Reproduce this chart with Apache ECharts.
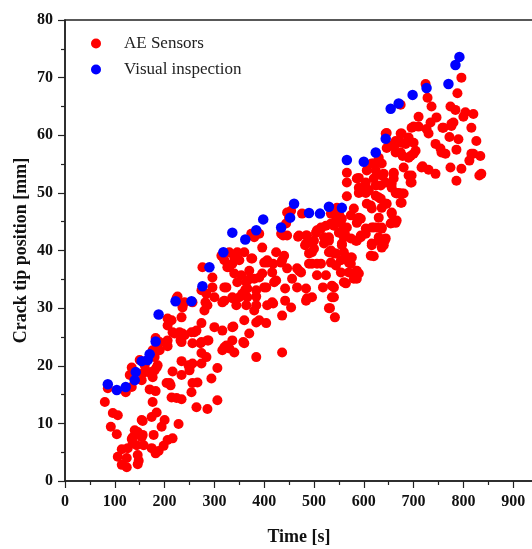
<!DOCTYPE html>
<html>
<head>
<meta charset="utf-8">
<script src="https://cdn.jsdelivr.net/npm/echarts@6/dist/echarts.min.js"></script>
<style>
  html, body { margin: 0; padding: 0; background: #fff; }
  #chart { width: 532px; height: 549px; }
</style>
</head>
<body>
<div id="chart"></div>
<script>
// Crack tip position over time: [time (s), position (mm)]
const aeSensors = [
  [80,13.7],[86,16.1],[92,9.4],[96,11.8],[104,8.1],[106,11.4],[106,4.2],[114,5.5],[114,2.8],[122,15.4],
  [124,4.0],[124,2.4],[126,5.7],[130,18.4],[134,16.3],[134,7.3],[134,19.7],[136,6.6],[136,7.6],[140,8.8],
  [144,6.2],[146,8.5],[146,4.5],[146,2.9],[148,3.5],[150,21.0],[154,17.5],[154,10.6],[154,7.6],[156,18.7],
  [156,8.0],[156,10.4],[158,6.2],[160,20.1],[166,18.9],[170,15.9],[174,18.9],[174,11.1],[174,5.7],[176,22.7],
  [176,13.7],[176,18.0],[178,8.0],[180,21.5],[180,19.2],[182,24.8],[182,15.6],[182,4.8],[184,19.7],[184,11.9],
  [184,23.2],[186,23.5],[186,20.1],[188,5.2],[190,22.7],[190,24.1],[194,9.4],[198,6.1],[200,10.6],[204,17.0],
  [206,27.0],[206,24.4],[206,23.4],[206,7.1],[206,28.2],[210,17.0],[212,16.6],[214,27.9],[214,14.5],[216,19.0],
  [216,7.4],[216,25.8],[220,25.6],[224,31.7],[224,14.4],[226,32.0],[228,9.9],[230,25.8],[232,24.4],[234,20.8],
  [234,18.4],[234,14.2],[234,28.4],[234,24.1],[236,30.5],[236,25.6],[236,30.1],[240,25.3],[240,31.0],[248,20.1],
  [250,19.2],[250,19.7],[254,15.4],[254,25.8],[256,23.9],[256,20.4],[256,17.0],[256,31.0],[260,25.8],[264,12.8],
  [264,26.1],[266,17.1],[272,23.9],[274,33.1],[274,27.4],[274,22.2],[274,24.1],[274,20.4],[276,37.1],[280,29.6],
  [282,31.0],[284,32.5],[284,21.5],[286,30.5],[286,12.5],[286,24.4],[288,24.4],[294,17.8],[296,33.6],[296,35.3],
  [300,31.9],[300,26.7],[306,19.6],[306,14.0],[314,39.1],[316,31.0],[316,26.1],[316,22.7],[318,38.8],[320,33.6],
  [320,23.2],[320,31.3],[320,38.3],[324,23.5],[324,33.6],[326,37.1],[326,23.4],[330,23.0],[330,39.7],[330,37.1],
  [336,37.7],[336,31.9],[336,26.7],[336,24.4],[336,31.7],[338,26.8],[340,36.0],[340,38.8],[340,22.3],[344,30.5],
  [346,34.5],[346,39.7],[350,38.3],[350,31.9],[354,35.7],[356,32.5],[358,24.1],[360,39.7],[360,27.9],[360,23.9],
  [362,33.2],[364,34.5],[364,30.5],[366,33.4],[366,31.9],[370,36.5],[370,25.6],[370,35.0],[374,38.6],[374,42.9],
  [376,38.6],[380,35.1],[380,42.3],[380,29.6],[384,33.1],[384,30.5],[384,27.5],[384,21.5],[384,32.0],[390,42.9],
  [390,35.3],[390,27.9],[396,36.0],[396,40.5],[400,37.9],[400,33.6],[404,33.6],[404,27.4],[406,30.5],[406,38.3],
  [406,37.9],[416,36.2],[416,31.0],[418,37.7],[418,30.8],[420,34.5],[424,39.7],[424,34.8],[434,42.9],[434,37.9],
  [436,38.3],[436,28.7],[436,22.3],[438,42.6],[440,39.1],[442,33.4],[442,31.3],[444,44.7],[446,42.6],[446,36.9],
  [446,46.6],[450,45.7],[454,46.9],[454,30.1],[456,35.1],[466,36.9],[466,33.6],[468,42.4],[470,42.6],[470,36.5],
  [474,36.2],[476,46.4],[482,40.9],[484,33.4],[484,31.3],[484,42.6],[484,41.2],[486,42.6],[486,31.7],[490,39.5],
  [490,37.7],[496,41.4],[496,37.7],[496,31.9],[496,39.7],[500,40.3],[500,41.7],[504,43.1],[506,35.7],[506,37.7],
  [506,43.5],[514,43.8],[514,37.7],[514,44.0],[518,33.6],[520,42.3],[520,41.2],[524,35.7],[524,44.3],[530,42.3],
  [530,30.0],[530,39.7],[530,41.7],[532,30.0],[534,40.0],[534,46.4],[534,37.9],[534,44.7],[536,33.9],[536,31.9],
  [540,44.3],[540,31.9],[540,39.5],[540,33.6],[542,28.4],[544,39.5],[544,37.4],[544,45.2],[546,47.4],[550,43.1],
  [550,46.4],[550,45.7],[554,38.3],[554,36.2],[554,44.7],[556,45.5],[556,41.2],[556,43.1],[556,40.9],[560,34.5],
  [560,42.3],[560,39.7],[562,42.9],[564,34.3],[566,44.0],[566,38.8],[566,49.4],[566,53.5],[566,51.8],[570,36.2],
  [570,37.9],[574,37.7],[574,46.1],[574,42.1],[574,38.8],[576,38.8],[580,47.3],[580,35.1],[584,36.2],[584,41.7],
  [586,44.8],[586,41.7],[586,36.5],[586,35.1],[586,52.5],[588,45.2],[590,50.0],[590,45.7],[590,52.6],[590,36.0],
  [590,50.9],[594,45.5],[594,42.6],[594,42.3],[596,50.7],[604,50.0],[604,42.9],[604,51.8],[604,43.8],[606,53.9],
  [606,48.1],[606,50.7],[610,50.4],[614,47.8],[614,39.1],[616,44.0],[616,41.2],[616,55.1],[616,47.3],[616,40.9],
  [620,39.0],[620,52.5],[620,44.0],[620,55.1],[624,49.5],[624,53.9],[624,51.3],[626,44.0],[630,49.2],[630,41.7],
  [630,45.7],[630,42.3],[630,56.1],[634,51.3],[634,49.0],[636,47.4],[636,44.0],[636,40.5],[636,55.1],[636,43.8],
  [636,53.0],[640,53.3],[640,40.9],[642,41.7],[644,48.1],[644,42.1],[644,60.3],[644,51.8],[646,48.1],[646,60.4],
  [646,57.8],[654,44.7],[654,58.2],[656,46.4],[656,51.6],[656,46.6],[656,44.8],[656,50.9],[660,53.5],[660,52.5],
  [660,53.3],[664,44.8],[664,58.5],[664,50.0],[664,59.0],[664,57.0],[666,49.9],[666,45.2],[670,50.0],[674,60.3],
  [674,57.0],[674,48.3],[674,65.3],[676,48.3],[676,58.7],[676,49.9],[676,60.3],[678,56.4],[680,49.9],[680,54.4],
  [684,58.5],[690,59.6],[690,56.1],[690,53.0],[694,56.4],[694,51.8],[696,51.8],[696,61.3],[696,53.0],[700,61.5],
  [700,58.7],[700,56.8],[704,57.3],[710,61.5],[710,63.2],[716,54.4],[718,54.6],[724,68.9],[726,61.1],[728,66.5],
  [730,60.3],[730,54.0],[734,62.2],[736,65.0],[744,58.5],[744,53.3],[746,63.1],[754,57.7],[756,57.0],[758,61.3],
  [760,61.3],[764,56.8],[772,59.7],[774,54.4],[774,65.0],[776,61.6],[776,62.0],[780,62.2],[784,64.4],[786,57.5],
  [786,52.1],[788,67.3],[790,59.3],[796,54.2],[796,70.0],[800,63.2],[804,64.0],[812,55.6],[816,61.3],[816,56.8],
  [820,56.8],[820,63.7],[826,59.0],[832,53.0],[834,56.4],[836,53.3]
];

const visualInspection = [
  [86,16.8],[104,15.8],[122,16.3],[140,17.5],[142,18.9],[154,20.8],[166,21.0],[170,22.0],[182,24.2],[188,28.9],
  [222,31.2],[254,31.2],[276,33.8],[290,37.1],[318,39.7],[336,43.1],[362,41.9],[384,43.5],[398,45.4],[434,44.0],
  [452,45.7],[460,48.1],[490,46.5],[512,46.4],[530,47.6],[556,47.4],[566,55.7],[600,55.4],[624,57.0],[644,59.4],
  [654,64.6],[670,65.5],[698,67.0],[726,68.2],[770,68.9],[784,72.2],[792,73.6]
];

const seriesNames = ['AE Sensors', 'Visual inspection'];
const seriesColors = ['#ff0000', '#0000ff'];
const timeTicks = [0, 1000, 100];     // min, max, interval
const positionTicks = [0, 80, 10];    // min, max, interval

const serif = "'Liberation Serif', 'Times New Roman', serif";
const axisColor = '#222';

const chart = echarts.init(document.getElementById('chart'), null, { renderer: 'canvas' });

chart.setOption({
  animation: false,
  backgroundColor: '#fff',
  grid: {
    left: 65, top: 20, width: 498, height: 461,
    outerBoundsMode: 'none',
    containLabel: false,
    show: true, borderColor: axisColor, borderWidth: 1.5, backgroundColor: 'transparent'
  },
  legend: {
    data: seriesNames,
    orient: 'vertical',
    left: 91, top: 35,
    padding: 0,
    itemGap: 9,
    itemWidth: 14, itemHeight: 10,
    icon: 'circle',
    textStyle: { fontFamily: serif, fontSize: 17, color: '#222', padding: [0, 0, 0, 16] }
  },
  xAxis: {
    type: 'value',
    min: timeTicks[0], max: timeTicks[1], interval: timeTicks[2],
    name: 'Time [s]',
    nameLocation: 'middle',
    nameGap: 47,
    nameMoveOverlap: false,
    nameTextStyle: { fontFamily: serif, fontSize: 18, fontWeight: 'bold', color: '#111', padding: [0, 30, 0, 0] },
    axisLine: { show: true, lineStyle: { color: axisColor, width: 1.5 } },
    axisTick: { show: true, inside: false, length: 7, lineStyle: { color: axisColor, width: 1.2 } },
    minorTick: { show: true, splitNumber: 2, length: 4, lineStyle: { color: axisColor, width: 1.2 } },
    axisLabel: {
      fontFamily: serif, fontSize: 16, fontWeight: 'bold', color: '#111', margin: 13,
      formatter: (v) => String(v)
    },
    splitLine: { show: false }
  },
  yAxis: {
    type: 'value',
    min: positionTicks[0], max: positionTicks[1], interval: positionTicks[2],
    name: 'Crack tip position [mm]',
    nameLocation: 'middle',
    nameGap: 35,
    nameMoveOverlap: false,
    nameTextStyle: { fontFamily: serif, fontSize: 18, fontWeight: 'bold', color: '#111' },
    axisLine: { show: true, lineStyle: { color: axisColor, width: 1.5 } },
    axisTick: { show: true, inside: false, length: 7, lineStyle: { color: axisColor, width: 1.2 } },
    minorTick: { show: true, splitNumber: 2, length: 4, lineStyle: { color: axisColor, width: 1.2 } },
    axisLabel: { fontFamily: serif, fontSize: 16, fontWeight: 'bold', color: '#111', margin: 12 },
    splitLine: { show: false }
  },
  series: [
    {
      name: seriesNames[0],
      type: 'scatter',
      data: aeSensors,
      symbol: 'circle',
      symbolSize: 10,
      itemStyle: { color: seriesColors[0], opacity: 1 }
    },
    {
      name: seriesNames[1],
      type: 'scatter',
      data: visualInspection,
      symbol: 'circle',
      symbolSize: 10.5,
      itemStyle: { color: seriesColors[1], opacity: 1 }
    }
  ]
});
</script>
</body>
</html>
